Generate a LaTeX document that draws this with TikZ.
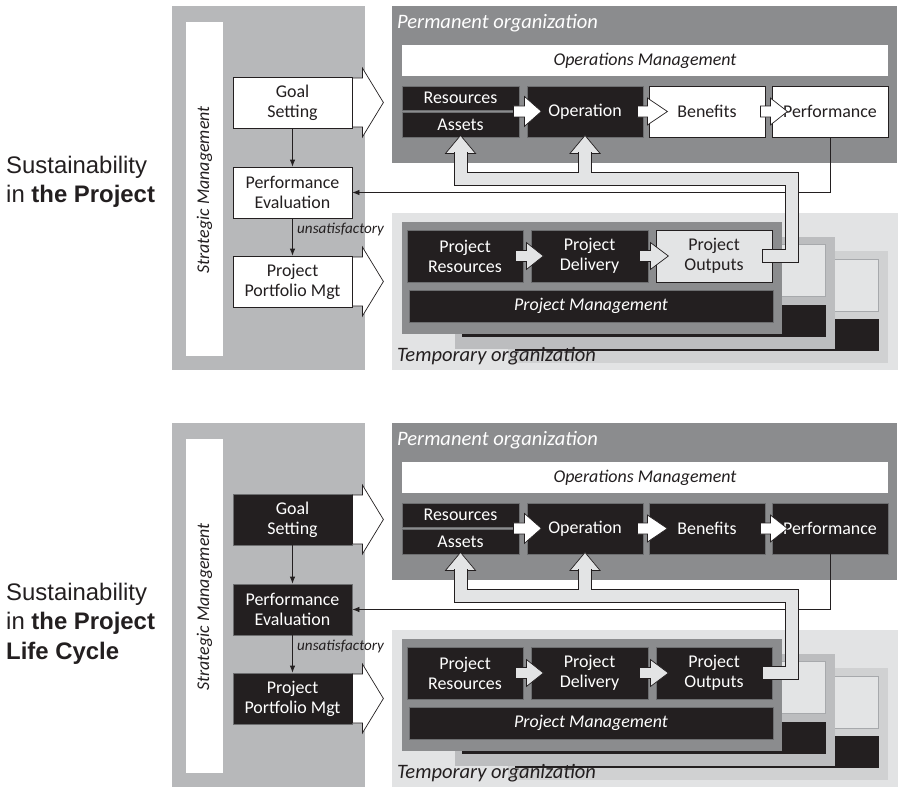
\documentclass[tikz,border=0pt]{standalone}
\usepackage{fontspec}
\setmainfont{Carlito}
\newfontfamily\labelfamily{Liberation Sans}
\usetikzlibrary{arrows.meta}

\definecolor{ink}{HTML}{231F20}
\definecolor{smgrey}{HTML}{B7B8BA}
\definecolor{permgrey}{HTML}{8B8C8E}
\definecolor{tempbg}{HTML}{E2E3E4}
\definecolor{layertwo}{HTML}{BCBDBF}
\definecolor{layerthree}{HTML}{D0D1D2}
\definecolor{pipefill}{HTML}{E3E4E5}
\definecolor{ghostedge}{HTML}{A7A9AC}
\definecolor{boxedge}{HTML}{6D6E70}

\newcommand\orgcellfont{\fontsize{18}{20}\selectfont}
\newcommand\orgheadfont{\fontsize{20.6}{24}\selectfont\itshape}
\newcommand\orgnotefont{\fontsize{15.2}{17}\selectfont\itshape}

\tikzset{
  unitbox/.style={rectangle, inner sep=0pt, align=center, font=\orgcellfont, line width=0.8bp},
  darkbox/.style={unitbox, fill=ink, draw=boxedge, text=white},
  whitebox/.style={unitbox, fill=white, draw=ink, text=ink},
  paleoutbox/.style={unitbox, fill=pipefill, draw=ink, text=ink},
  stratbox/.style={minimum width=119bp, minimum height=51bp},
  rowbox/.style={minimum width=116bp, minimum height=51bp},
  projbox/.style={minimum width=116bp, minimum height=52bp},
  feedback/.style={draw=ink, line width=0.8bp, -{Latex[length=7bp,width=5.5bp]}},
  whitearrow/.style={fill=white, draw=ink, line width=0.7bp},
  greyarrow/.style={fill=pipefill, draw=ink, line width=0.7bp},
}

% horizontal block arrow: style, start point, shaft length, head length,
% shaft half-height, head half-height
\newcommand\blockarrow[6]{%
  \draw[#1] (#2) ++(0,-#5) -- ++(#3,0) -- ++(0,{#5-#6}) -- ++(#4,#6)
    -- ++(-#4,#6) -- ++(0,{#5-#6}) -- ++(-#3,0) -- cycle;}
% upward arrow head: style, tip point
\newcommand\uphead[2]{%
  \draw[#1] (#2) -- ++(15,18) -- ++(-30,0) -- cycle;}

% one complete organisation diagram
% #1 name suffix, #2 vertical offset, #3 strategic boxes,
% #4 benefits/performance boxes, #5 project outputs box
\newcommand\orgpanel[5]{%
\begin{scope}[shift={(0,#2)}]
  % strategic management column
  \fill[smgrey] (172,6) rectangle (365,370);
  \fill[white] (186,22) rectangle (223,356);
  \node[rotate=90, font=\orgcellfont\itshape, text=ink] (sm#1) at (204.5,190) {Strategic Management};
  \node[#3, stratbox] (gs#1) at (292.5,102.5) {Goal\\Setting};
  \node[#3, stratbox] (pe#1) at (292.5,192.5) {Performance\\Evaluation};
  \node[#3, stratbox] (ppm#1) at (292.5,281.5) {Project\\Portfolio Mgt};
  \draw[feedback] (gs#1) -- (pe#1);
  \draw[feedback] (pe#1) -- (ppm#1);
  \node[anchor=base west, inner sep=0, font=\orgnotefont, text=ink] (unsat#1) at (297,233) {unsatisfactory};
  % permanent organization
  \fill[permgrey] (392,6) rectangle (897,163);
  \node[anchor=west, inner sep=0, font=\orgheadfont, text=white] (perm#1) at (397,23) {Permanent organization};
  \node[fill=white, minimum width=486bp, minimum height=31bp, inner sep=0,
        font=\orgcellfont\itshape, text=ink] (opm#1) at (645,60.5) {Operations Management};
  \node[darkbox, minimum width=117bp, minimum height=24bp] (res#1) at (460.5,98) {Resources};
  \node[darkbox, minimum width=117bp, minimum height=25bp] (ast#1) at (460.5,124.5) {Assets};
  \node[darkbox, rowbox] (op#1) at (585,111.5) {Operation};
  \node[#4, rowbox] (ben#1) at (707,111.5) {Benefits};
  \node[#4, rowbox] (perf#1) at (830,111.5) {Performance};
  % temporary organization: stacked projects
  \fill[tempbg] (392,213) rectangle (898,370);
  \foreach \k/\lc in {2/layerthree,1/layertwo}{
    \begin{scope}[shift={(53*\k,14.5*\k)}]
      \fill[\lc] (402,222) rectangle (782,334);
      \filldraw[fill=pipefill, draw=ghostedge, line width=0.8bp] (656,230) rectangle (772,282);
      \fill[ink] (409,290) rectangle (773,322);
    \end{scope}}
  \fill[permgrey] (402,222) rectangle (782,334);
  \node[darkbox, projbox] (pr#1) at (465,256) {Project\\Resources};
  \node[darkbox, projbox, minimum width=117bp] (pd#1) at (589.5,256) {Project\\Delivery};
  \node[#5, projbox] (po#1) at (714,256) {Project\\Outputs};
  \node[darkbox, minimum width=364bp, minimum height=32bp, font=\orgcellfont\itshape] (pm#1) at (591,306) {Project Management};
  \node[anchor=base west, inner sep=0, font=\orgheadfont, text=ink] (temp#1) at (397,361) {Temporary organization};
  % performance feedback
  \draw[feedback] (perf#1.south) |- (pe#1.east);
  % outputs flowing back into resources and operation
  \coordinate (bend#1) at (791.5,179);
  \uphead{greyarrow}{[yshift=2bp]ast#1.south}
  \uphead{greyarrow}{[yshift=2bp]op#1.south}
  \draw[ink, line width=14bp] ([xshift=-10bp]po#1.east) -| (bend#1) -| ([yshift=-15bp]ast#1.south);
  \draw[ink, line width=14bp] (op#1.south |- bend#1) -- ([yshift=-15bp]op#1.south);
  \draw[pipefill, line width=12bp, shorten <=1bp] ([xshift=-10bp]po#1.east) -| (bend#1) -| ([yshift=-15bp]ast#1.south);
  \draw[pipefill, line width=12bp] (op#1.south |- bend#1) -- ([yshift=-15bp]op#1.south);
  % block arrows
  \blockarrow{whitearrow}{gs#1.east}{10}{21}{24.5}{34.5}
  \blockarrow{whitearrow}{ppm#1.east}{10}{21}{24.5}{34.5}
  \blockarrow{whitearrow}{[xshift=-6bp,yshift=-1bp]res#1.south east}{11}{17}{5.5}{15}
  \blockarrow{whitearrow}{[xshift=-6bp]op#1.east}{10}{20}{5.5}{13.5}
  \blockarrow{whitearrow}{[xshift=-5bp]ben#1.east}{10}{17}{5.5}{13.5}
  \blockarrow{greyarrow}{[xshift=-8bp]pr#1.east}{11}{17}{5.5}{13.5}
  \blockarrow{greyarrow}{[xshift=-9bp]pd#1.east}{11}{18}{5.5}{13.5}
\end{scope}}

\begin{document}
\begin{tikzpicture}[x=1bp, y=-1bp]
  \useasboundingbox (0,0) rectangle (901,789);
  \fill[white] (0,0) rectangle (901,789);

  \node[anchor=north west, align=left, inner sep=0, text=ink,
        font=\labelfamily\fontsize{24}{30}\selectfont] (labtop) at (6,155.5)
        {Sustainability\\in \textbf{the Project}};
  \orgpanel{a}{0}{whitebox}{whitebox}{paleoutbox}

  \node[anchor=north west, align=left, inner sep=0, text=ink,
        font=\labelfamily\fontsize{24}{30}\selectfont] (labbot) at (6,582.5)
        {Sustainability\\in \textbf{the Project}\\\textbf{Life Cycle}};
  \orgpanel{b}{417}{darkbox}{darkbox}{darkbox}
\end{tikzpicture}
\end{document}
